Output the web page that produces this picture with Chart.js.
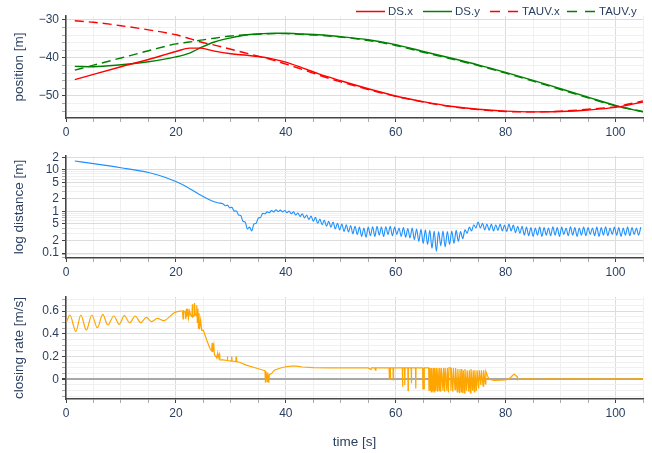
<!DOCTYPE html>
<html>
<head>
<meta charset="utf-8">
<script src="https://cdn.jsdelivr.net/npm/chart.js@4.4.1/dist/chart.umd.min.js"></script>
<style>
  body { margin: 0; background: #fff; width: 652px; height: 453px; overflow: hidden; position: relative;
         font-family: "Liberation Sans", Arial, sans-serif; color: #2a3f5f; }
  .panel { position: absolute; left: 0; width: 652px; }
  .lg { position: absolute; top: 4px; height: 14px; font-size: 11.5px; line-height: 14px; white-space: nowrap; }
  .lg svg { position: absolute; left: 0; top: 6px; }
  .lg span { position: absolute; left: 32px; top: 0; }
</style>
</head>
<body>
<div class="panel" style="top:0;height:140px"><canvas id="posChart"></canvas></div>
<div class="panel" style="top:140px;height:140px"><canvas id="distChart"></canvas></div>
<div class="panel" style="top:280px;height:173px"><canvas id="rateChart"></canvas></div>

<div class="lg" style="left:356px"><svg width="29" height="3"><line x1="0" y1="1.5" x2="29" y2="1.5" stroke="#ff0000" stroke-width="1.5"/></svg><span>DS.x</span></div>
<div class="lg" style="left:423px"><svg width="29" height="3"><line x1="0" y1="1.5" x2="29" y2="1.5" stroke="#008000" stroke-width="1.5"/></svg><span>DS.y</span></div>
<div class="lg" style="left:490px"><svg width="28" height="3"><line x1="0" y1="1.5" x2="28" y2="1.5" stroke="#ff0000" stroke-width="1.5" stroke-dasharray="10,8"/></svg><span>TAUV.x</span></div>
<div class="lg" style="left:567px"><svg width="28" height="3"><line x1="0" y1="1.5" x2="28" y2="1.5" stroke="#008000" stroke-width="1.5" stroke-dasharray="10,8"/></svg><span>TAUV.y</span></div>

<script>
// ---- position [m]
const posT  = [1.6, 5, 10, 15, 20, 22.5, 24.5, 27, 30, 33, 36, 38, 40, 43, 46, 50, 55, 60, 65, 70, 75, 80, 85, 90, 95, 100, 105];
const dsX   = [-45.7, -44.3, -42.3, -40.4, -38.3, -37.4, -37.4, -38.2, -38.9, -39.3, -39.8, -40.4, -41.1, -42.6, -44.2, -46.0, -48.1, -50.0, -51.5, -52.7, -53.5, -54.0, -54.2, -54.1, -53.7, -53.0, -51.6];
const dsY   = [-42.2, -42.3, -41.8, -41.0, -39.7, -38.7, -37.3, -35.8, -34.7, -33.9, -33.6, -33.5, -33.5, -33.7, -33.9, -34.4, -35.2, -36.5, -38.3, -40.0, -41.8, -43.8, -45.9, -48.1, -50.3, -52.5, -54.2];
const tauvX = [-30.2, -30.6, -31.5, -32.6, -33.9, -34.9, -35.8, -36.6, -37.7, -38.8, -39.9, -40.7, -41.6, -43.0, -44.5, -46.3, -48.3, -50.1, -51.6, -52.8, -53.6, -54.1, -54.2, -54.0, -53.5, -52.8, -51.3];
const tauvY = [-43.2, -41.9, -40.0, -38.1, -36.3, -35.8, -35.3, -34.8, -34.2, -33.9, -33.7, -33.6, -33.6, -33.8, -34.0, -34.5, -35.4, -36.7, -38.5, -40.2, -42.0, -44.0, -46.1, -48.3, -50.5, -52.6, -54.1];

// ---- log distance [m]
const distT = [1.6, 5, 10, 15, 18, 20, 22, 24, 26, 27.6,
  28.6,29.0,29.4,29.8,30.2,30.6,31.0,31.4,31.8,32.2,
  32.6,33.0,33.4,33.8,34.2,34.6,35.0,35.4,35.8,36.2,
  36.6,37.0,37.4,37.8,38.2,38.6,39.0,39.4,39.8,40.2,
  40.6,41.0,41.4,41.8,42.2,42.6,43.0,43.4,43.8,44.2,
  44.6,45.0,45.4,45.8,46.2,46.6,47.0,47.4,47.8,48.2,
  48.6,49.0,49.4,49.8,50.2,50.6,51.0,51.4,51.8,52.2,
  52.6,53.0,53.4,53.8,54.2,54.6,55.0,55.4,55.8,56.2,
  56.6,57.0,57.4,57.8,58.2,58.6,59.0,59.4,59.8,60.2,
  60.6,61.0,61.4,61.8,62.2,62.6,63.0,63.4,63.8,64.2,
  64.6,65.0,65.4,65.8,66.2,66.6,67.0,67.4,67.8,68.2,
  68.6,69.0,69.4,69.8,70.2,70.6,71.0,71.4,71.8,72.2,
  72.6,73.0,73.4,73.8,74.2,74.6,75.0,75.4,75.8,76.2,
  76.6,77.0,77.4,77.8,78.2,78.6,79.0,79.4,79.8,80.2,
  80.6,81.0,81.4,81.8,82.2,82.6,83.0,83.4,83.8,84.2,
  84.6,85.0,85.4,85.8,86.2,86.6,87.0,87.4,87.8,88.2,
  88.6,89.0,89.4,89.8,90.2,90.6,91.0,91.4,91.8,92.2,
  92.6,93.0,93.4,93.8,94.2,94.6,95.0,95.4,95.8,96.2,
  96.6,97.0,97.4,97.8,98.2,98.6,99.0,99.4,99.8,100.2,
  100.6,101.0,101.4,101.8,102.2,102.6,103.0,103.4,103.8,104.2,
  104.6];
const distV = [16.4, 14.2, 11.3, 8.7, 6.7, 5.25, 3.9, 2.7, 1.95, 1.62,
  1.52,1.38,1.42,1.22,1.26,1.02,1.04,0.82,0.80,0.58,
  0.56,0.38,0.42,0.34,0.50,0.52,0.70,0.72,0.90,0.88,
  0.98,0.94,1.05,0.98,1.10,1.00,1.08,0.98,1.06,0.94,
  1.02,0.88,0.98,0.82,0.92,0.76,0.88,0.70,0.82,0.64,
  0.78,0.58,0.72,0.52,0.66,0.48,0.62,0.44,0.58,0.42,
  0.56,0.38,0.52,0.36,0.50,0.33,0.48,0.32,0.46,0.29,
  0.44,0.28,0.42,0.25,0.40,0.24,0.42,0.26,0.43,0.25,
  0.44,0.27,0.42,0.25,0.43,0.28,0.44,0.26,0.42,0.28,
  0.40,0.25,0.41,0.24,0.39,0.23,0.40,0.21,0.38,0.19,
  0.37,0.17,0.36,0.16,0.35,0.13,0.34,0.11,0.33,0.15,
  0.34,0.14,0.33,0.16,0.34,0.17,0.35,0.19,0.33,0.22,
  0.36,0.30,0.42,0.34,0.48,0.40,0.56,0.40,0.52,0.36,
  0.50,0.35,0.50,0.34,0.48,0.35,0.50,0.34,0.47,0.33,
  0.50,0.34,0.47,0.31,0.44,0.30,0.44,0.27,0.42,0.26,
  0.41,0.25,0.40,0.27,0.42,0.25,0.41,0.27,0.40,0.26,
  0.43,0.27,0.41,0.25,0.42,0.28,0.40,0.26,0.43,0.27,
  0.41,0.25,0.40,0.27,0.42,0.26,0.41,0.28,0.40,0.26,
  0.42,0.25,0.41,0.27,0.43,0.26,0.40,0.28,0.42,0.27,
  0.41,0.25,0.40,0.27,0.42,0.26,0.41,0.28,0.40,0.27,
  0.42];

// ---- closing rate [m/s]; the first 23 samples are the smooth oscillation
const rateSmoothCount = 23;
const rateT = [
  0.1,0.7,1.8,2.7,3.7,4.7,5.7,6.7,7.6,8.7,9.7,10.6,11.6,12.6,13.6,14.6,15.6,16.6,17.8,19.2,19.7,20.3,21.0,
  21.2,21.3,21.4,21.7,21.8,21.9,22.0,22.2,22.3,22.5,22.7,22.9,23.0,23.1,23.3,23.4,23.5,23.7,23.8,23.9,24.0,24.1,24.2,24.3,24.5,24.7,25.0,
  25.6,26.2,26.5,26.6,26.7,26.9,27.0,27.4,27.6,27.7,27.9,28.0,28.6,29.3,29.35,29.45,30.1,30.15,30.25,30.9,
  30.95,31.05,31.6,32.8,34.7,35.9,36.2,36.3,36.4,36.6,36.7,36.9,37.0,37.4,37.9,38.9,40.0,41.0,42.0,43.0,
  45.0,48.0,52.0,55.0,55.5,55.6,56.2,56.3,56.4,57.5,
  58.8,58.85,59.0,59.05,59.5,59.55,59.6,61.2,61.25,61.3,61.6,61.65,61.7,62.2,62.25,62.3,62.8,62.85,62.9,
  63.6,63.65,63.7,64.9,64.95,65.1,65.15,65.2,
  66.0,66.05,66.15,66.3,66.4,66.5,66.6,66.8,66.9,67.0,67.1,67.3,67.4,67.6,67.7,67.9,68.0,68.2,68.3,68.6,
  68.7,68.9,69.0,69.3,69.4,69.6,69.7,
  70.0,70.05,70.1,70.4,70.5,70.8,70.9,71.2,71.3,71.6,71.7,71.9,72.0,72.2,72.3,72.5,72.6,72.9,73.0,73.3,
  73.4,73.6,73.7,74.0,74.1,74.3,74.4,74.7,74.8,75.1,75.2,75.5,75.6,75.9,76.0,76.3,76.4,76.7,77.0,
  77.5,78.0,79.0,80.0,80.8,81.3,81.6,81.9,82.1,82.15,82.4,83.0,85.0,86.0,88.0,90.0,92.0,94.0,96.0,98.0,
  100.0,102.0,104.0,105.0];
const rateV = [
  0.506,0.565,0.42,0.565,0.433,0.565,0.453,0.57,0.477,0.556,0.483,0.559,0.497,0.556,0.497,0.544,0.506,0.535,0.515,0.565,0.585,0.595,0.60,
  0.60,0.53,0.60,0.59,0.53,0.62,0.55,0.62,0.54,0.60,0.56,0.55,0.66,0.55,0.56,0.67,0.58,0.56,0.65,0.50,0.62,0.45,0.58,0.44,0.52,0.43,0.43,
  0.345,0.27,0.25,0.32,0.24,0.30,0.22,0.19,0.23,0.19,0.22,0.17,0.17,0.165,0.20,0.165,0.16,0.20,0.16,0.155,
  0.20,0.155,0.15,0.125,0.097,0.08,0.075,-0.03,0.07,-0.02,0.06,-0.03,0.04,0.05,0.08,0.097,0.11,0.117,0.115,0.108,
  0.102,0.1,0.1,0.1,0.085,0.1,0.1,0.08,0.1,0.1,
  0.1,0.0,0.0,0.1,0.1,-0.005,0.1,0.1,-0.065,0.1,0.1,-0.05,0.1,0.1,-0.1,0.1,0.1,-0.035,0.1,
  0.1,-0.08,0.1,0.1,-0.09,0.1,-0.085,0.1,
  0.1,-0.1,0.1,-0.1,0.1,-0.11,0.1,-0.1,0.1,-0.11,0.1,-0.1,0.1,-0.11,0.1,-0.1,0.1,-0.11,0.1,-0.1,
  0.1,-0.11,0.1,-0.1,0.1,-0.115,0.1,
  0.1,-0.1,0.1,-0.11,0.1,-0.09,0.1,-0.11,0.09,-0.12,0.09,-0.11,0.09,-0.12,0.08,-0.12,0.09,-0.1,0.08,-0.11,
  0.08,-0.12,0.09,-0.1,0.08,-0.11,0.08,-0.1,0.08,-0.08,0.08,-0.05,0.08,-0.06,0.08,-0.04,0.07,0.03,0.0,
  -0.005,-0.01,-0.008,-0.005,0.01,0.035,0.045,0.03,0.025,-0.005,0.0,0.002,0.004,0.0,0.003,0.001,0.004,0.002,0.003,0.001,
  0.003,0.002,0.004,0.003];

// ---- ticks
const xTicks = [0,5,10,15,20,25,30,35,40,45,50,55,60,65,70,75,80,85,90,95,100,105];
const xLabels = [0,20,40,60,80,100];
const posTicks = [-54,-52,-50,-48,-46,-44,-42,-40,-38,-36,-34,-32,-30];
const posLabels = [-50,-40,-30];
const distTicks = [0.08,0.09,0.1,0.2,0.3,0.4,0.5,0.6,0.7,0.8,0.9,1,2,3,4,5,6,7,8,9,10,20];
const distLabelVals = [0.1,0.2,0.5,1,2,5,10,20];
const distLabelText = ['0.1','2','5','1','2','5','10','2'];
const rateTicks = [-0.15,-0.1,-0.05,0,0.05,0.1,0.15,0.2,0.25,0.3,0.35,0.4,0.45,0.5,0.55,0.6,0.65,0.7];
const rateLabels = [0,0.2,0.4,0.6];

const textColor = '#2a3f5f';
const axisColor = '#444';
const majorGrid = '#dcdcdc';
const minorGrid = '#f0f0f0';
Chart.defaults.font.family = '"Liberation Sans", Arial, sans-serif';
Chart.defaults.font.size = 12;
Chart.defaults.color = textColor;

function near(a, b) { return Math.abs(a - b) < 1e-9; }
function isIn(list, v) { return list.some(x => near(x, v)); }
function fmt(v) { return v < 0 ? '\u2212' + Math.abs(v) : String(v); }
function pts(t, v) { return t.map((x, i) => ({ x: x, y: v[i] })); }

function xScale(height, withTitle) {
  return {
    type: 'linear', min: 0, max: 105,
    afterBuildTicks: s => { s.ticks = xTicks.map(v => ({ value: v })); },
    afterFit: s => { s.height = height; },
    ticks: { autoSkip: false, maxRotation: 0, padding: 3,
             callback: v => isIn(xLabels, v) ? String(v) : '' },
    grid: { color: c => isIn(xLabels, c.tick.value) ? majorGrid : minorGrid,
            tickColor: c => isIn(xLabels, c.tick.value) ? axisColor : '#aaa',
            tickLength: 4 },
    border: { display: true, color: axisColor, width: 1.5 },
    title: { display: withTitle, text: 'time [s]', color: textColor,
             font: { size: 13.5 }, padding: { top: 0, bottom: 3 } }
  };
}

function yScale(opts) {
  return {
    type: opts.type || 'linear', min: opts.min, max: opts.max,
    afterBuildTicks: s => { s.ticks = opts.ticks.map(v => ({ value: v })); },
    afterFit: s => { s.width = 66; },
    ticks: { autoSkip: false, padding: 3, callback: opts.label },
    grid: { color: c => opts.gridColor(c.tick.value),
            lineWidth: c => opts.gridWidth ? opts.gridWidth(c.tick.value) : 1,
            tickColor: c => opts.isMajor(c.tick.value) ? axisColor : '#aaa',
            tickLength: 4 },
    border: { display: true, color: axisColor, width: 1.5 },
    title: { display: true, text: opts.title, color: textColor,
             font: { size: 13.5 }, padding: { top: 11, bottom: 0 } }
  };
}

function baseOptions(x, y, top) {
  return {
    responsive: true, maintainAspectRatio: false, animation: false, devicePixelRatio: 1,
    layout: { padding: { top: top, right: 9, left: 0, bottom: 0 } },
    plugins: { legend: { display: false }, tooltip: { enabled: false } },
    elements: { point: { radius: 0 } },
    scales: { x: x, y: y }
  };
}

new Chart(document.getElementById('posChart'), {
  type: 'line',
  data: { datasets: [
    { label: 'DS.x', data: pts(posT, dsX), borderColor: '#ff0000', borderWidth: 1.4, cubicInterpolationMode: 'monotone' },
    { label: 'DS.y', data: pts(posT, dsY), borderColor: '#008000', borderWidth: 1.4, cubicInterpolationMode: 'monotone' },
    { label: 'TAUV.x', data: pts(posT, tauvX), borderColor: '#ff0000', borderWidth: 1.4, borderDash: [9, 5], cubicInterpolationMode: 'monotone' },
    { label: 'TAUV.y', data: pts(posT, tauvY), borderColor: '#008000', borderWidth: 1.4, borderDash: [9, 5], cubicInterpolationMode: 'monotone' }
  ] },
  options: baseOptions(xScale(22, false), yScale({
    min: -55.8, max: -28.95, ticks: posTicks, title: 'position [m]',
    label: v => isIn(posLabels, v) ? fmt(v) : '',
    isMajor: v => isIn(posLabels, v),
    gridColor: v => isIn(posLabels, v) ? majorGrid : minorGrid
  }), 16)
});

new Chart(document.getElementById('distChart'), {
  type: 'line',
  data: { datasets: [
    { label: 'distance', data: pts(distT, distV), borderColor: '#1e90ff', borderWidth: 1.1, cubicInterpolationMode: 'monotone' }
  ] },
  options: baseOptions(xScale(22, false), yScale({
    type: 'logarithmic', min: 0.0758, max: 21.7, ticks: distTicks, title: 'log distance [m]',
    label: v => { const i = distLabelVals.findIndex(x => near(x, v)); return i >= 0 ? distLabelText[i] : ''; },
    isMajor: v => isIn(distLabelVals, v),
    gridColor: v => isIn(distLabelVals, v) ? majorGrid : minorGrid
  }), 16)
});

const ratePts = pts(rateT, rateV);
new Chart(document.getElementById('rateChart'), {
  type: 'line',
  data: { datasets: [
    { label: 'closing rate', data: ratePts.slice(0, rateSmoothCount), borderColor: '#ffa500', borderWidth: 1.2, cubicInterpolationMode: 'monotone' },
    { label: 'closing rate (spiky)', data: ratePts.slice(rateSmoothCount - 1), borderColor: '#ffa500', borderWidth: 1.2, tension: 0 }
  ] },
  options: baseOptions(xScale(54, true), yScale({
    min: -0.173, max: 0.723, ticks: rateTicks, title: 'closing rate [m/s]',
    label: v => isIn(rateLabels, v) ? fmt(v) : '',
    isMajor: v => isIn(rateLabels, v),
    gridColor: v => near(v, 0) ? '#a8a8a8' : (isIn(rateLabels, v) ? majorGrid : minorGrid),
    gridWidth: v => near(v, 0) ? 2 : 1
  }), 17)
});
</script>
</body>
</html>
